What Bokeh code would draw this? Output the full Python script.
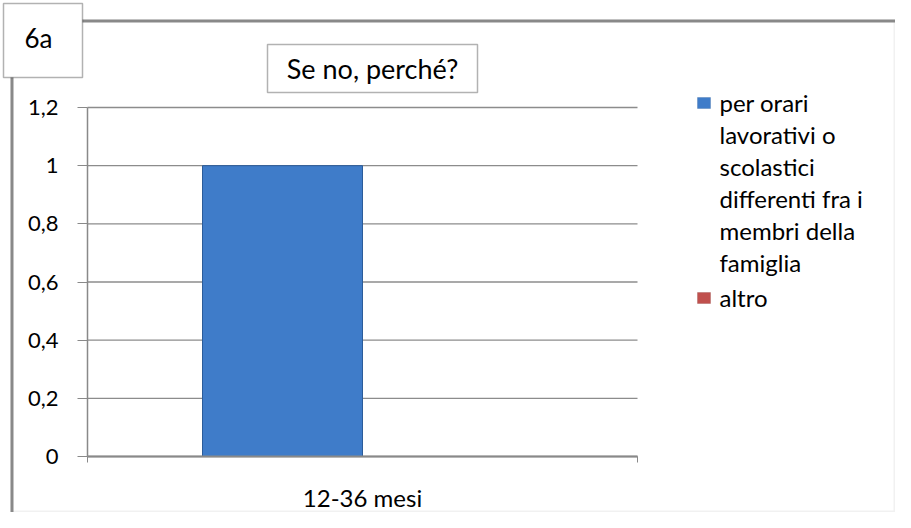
from bokeh.plotting import figure
from bokeh.models import (Range1d, FixedTicker, CustomJSTickFormatter,
                          BoxAnnotation, Label, ColumnDataSource)
from bokeh.embed import file_html
from bokeh.resources import INLINE

# ---- data ----
categories = ["12-36 mesi"]
series_names = ["per orari\nlavorativi o\nscolastici\ndifferenti fra i\nmembri della\nfamiglia", "altro"]
values_orari = [1]
values_altro = [0]
y_ticks = [0, 0.2, 0.4, 0.6, 0.8, 1.0, 1.2]
title_text = "Se no, perché?"
panel_tag = "6a"

FONT = "Lato"
BLUE = "#3F7CC9"
BLUE_EDGE = "#2B5C9A"
RED = "#C0504D"
RED_EDGE = "#8E3A37"
AXIS_GRAY = "#898989"

W, H = 895, 512
# plot area inside the canvas (pixels)
PL, PR, PT, PB = 87, 637, 107, 456
n = len(categories)
ymax = y_ticks[-1]
xs = (PR - PL) / n
ys = (PB - PT) / ymax
x_range = Range1d(-PL / xs, (W - PL) / xs)
y_range = Range1d(-(H - PB) / ys, ymax + PT / ys)

centers = [i + 0.5 for i in range(n)]
bw = 0.2909
src = ColumnDataSource(dict(
    x1=[c - bw / 2 for c in centers], x2=[c + bw / 2 for c in centers],
    orari=values_orari, altro=values_altro))

p = figure(x_range=x_range, y_range=y_range, width=W, height=H,
           min_border=0, output_backend="svg", toolbar_location=None)
p.outline_line_color = None
p.background_fill_color = "white"
p.border_fill_color = "white"
p.xgrid.grid_line_color = None
p.ygrid.grid_line_color = None

# gridlines restricted to the plot area
p.segment(x0=[0] * len(y_ticks), x1=[n] * len(y_ticks), y0=y_ticks, y1=y_ticks,
          line_color="#8C8C8C", line_width=1.3)

r1 = p.vbar(x="x1", top="orari", width=bw, source=src,
            fill_color=BLUE, line_color=BLUE_EDGE, line_width=1)
r2 = p.vbar(x="x2", top="altro", width=bw, source=src,
            fill_color=RED, line_color=None)

# axes (fixed at the plot-area edges)
p.yaxis.fixed_location = 0
p.yaxis.bounds = (0, ymax)
p.yaxis.ticker = FixedTicker(ticks=y_ticks)
p.yaxis.formatter = CustomJSTickFormatter(code="""
    const s = (Math.round(tick * 10) / 10).toString();
    return s.replace('.', ',');
""")
p.yaxis.axis_line_color = AXIS_GRAY
p.yaxis.axis_line_width = 1.5
p.yaxis.major_tick_line_color = AXIS_GRAY
p.yaxis.major_tick_out = 10
p.yaxis.major_tick_in = 0
p.yaxis.minor_tick_line_color = None
p.yaxis.major_label_standoff = 19
p.yaxis.major_label_text_font = FONT
p.yaxis.major_label_text_font_size = "22px"
p.yaxis.major_label_text_color = "black"

p.xaxis.fixed_location = 0
p.xaxis.bounds = (0, n)
p.xaxis.ticker = FixedTicker(ticks=centers, minor_ticks=list(range(n + 1)))
p.xaxis.major_label_overrides = {c: lab for c, lab in zip(centers, categories)}
p.xaxis.axis_line_color = AXIS_GRAY
p.xaxis.axis_line_width = 2
p.xaxis.major_tick_line_color = None
p.xaxis.major_tick_out = 0
p.xaxis.minor_tick_line_color = AXIS_GRAY
p.xaxis.minor_tick_out = 6
p.xaxis.minor_tick_in = 0
p.xaxis.major_label_standoff = 20
p.xaxis.major_label_text_font = FONT
p.xaxis.major_label_text_font_size = "24px"
p.xaxis.major_label_text_color = "black"

def cbox(l, r, t, b, **kw):
    return BoxAnnotation(left=l, right=r, top=t, bottom=b,
                         left_units="canvas", right_units="canvas",
                         top_units="canvas", bottom_units="canvas", **kw)

def clabel(x, y, text, size, align="left"):
    return Label(x=x, y=y, x_units="canvas", y_units="canvas", text=text,
                 text_align=align, text_baseline="middle",
                 text_font=FONT, text_font_size=size, text_color="black")

# legend (drawn by hand so that the swatch sits on the first text line)
legend_fills = [(BLUE, BLUE_EDGE), (RED, RED_EDGE)]
ly = 102
for name, (fc, ec) in zip(series_names, legend_fills):
    p.add_layout(cbox(697, 710, ly - 5, ly + 6, fill_color=fc, fill_alpha=1,
                      line_color=ec, line_width=1))
    for line in name.split("\n"):
        p.add_layout(clabel(719, ly, line, "24px"))
        ly += 32
    ly += 3

# outer chart frame
p.add_layout(cbox(11, 894, 20, 511, fill_alpha=0, line_color="#D0D0D0", line_width=2))
p.add_layout(cbox(10, 13, 19, 512, fill_color=AXIS_GRAY, fill_alpha=1, line_color=None))
p.add_layout(cbox(10, 895, 19, 22, fill_color=AXIS_GRAY, fill_alpha=1, line_color=None))

# title box
p.add_layout(cbox(267, 477, 44, 92, fill_color="white", fill_alpha=1,
                  line_color="black", line_width=1.5))
p.add_layout(clabel(372, 68, title_text, "27px", align="center"))

# tag box
p.add_layout(cbox(3, 82, 3, 77, fill_color="white", fill_alpha=1,
                  line_color="black", line_width=1.5))
p.add_layout(clabel(38, 37, panel_tag, "26px", align="center"))

open("out.html", "w").write(file_html(p, INLINE))
